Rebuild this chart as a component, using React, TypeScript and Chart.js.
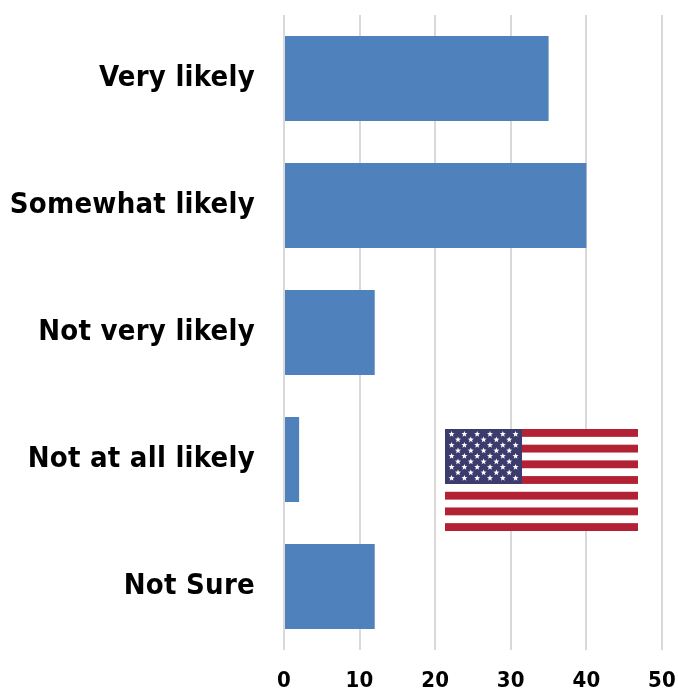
import React, { useEffect, useRef } from "react";
import { Chart, registerables } from "chart.js";

Chart.register(...registerables);

const categories = ["Very likely", "Somewhat likely", "Not very likely", "Not at all likely", "Not Sure"];
const percentages = [35, 40, 12, 2, 12];
const FONT = "'DejaVu Sans Condensed', 'DejaVu Sans', sans-serif";

// Opens up the axis lettering a little; the canvas keeps this setting for every label
const letterSpacingPlugin = {
  id: "labelTracking",
  beforeDraw(chart: Chart) {
    (chart.ctx as any).letterSpacing = "0.25px";
  },
};

// US flag placed as a decoration in the lower right of the plot
const flagPlugin = {
  id: "usFlag",
  afterDatasetsDraw(chart: Chart) {
    const { ctx } = chart;
    const x = 445, y = 429, w = 193, h = 102;
    const stripe = h / 13;
    ctx.save();
    ctx.fillStyle = "#ffffff";
    ctx.fillRect(x, y, w, h);
    ctx.fillStyle = "#b22234";
    for (let i = 0; i < 13; i += 2) ctx.fillRect(x, y + i * stripe, w, stripe);
    const cantonW = 77, cantonH = stripe * 7;
    ctx.fillStyle = "#3c3b6e";
    ctx.fillRect(x, y, cantonW, cantonH);
    ctx.fillStyle = "#ffffff";
    for (let row = 0; row < 9; row++) {
      const count = row % 2 === 0 ? 6 : 5;
      const startX = x + (row % 2 === 0 ? 6.6 : 13);
      for (let c = 0; c < count; c++) {
        const cx = startX + c * 12.8, cy = y + 5.2 + row * 5.5, r = 3.2;
        ctx.beginPath();
        for (let p = 0; p < 10; p++) {
          const rad = p % 2 === 0 ? r : r * 0.42;
          const a = -Math.PI / 2 + (p * Math.PI) / 5;
          const px = cx + rad * Math.cos(a), py = cy + rad * Math.sin(a);
          if (p === 0) ctx.moveTo(px, py); else ctx.lineTo(px, py);
        }
        ctx.closePath();
        ctx.fill();
      }
    }
    ctx.restore();
  },
};

export default function App() {
  const canvasRef = useRef<HTMLCanvasElement>(null);
  useEffect(() => {
    document.body.style.margin = "0";
    const chart = new Chart(canvasRef.current!, {
      type: "bar",
      data: {
        labels: categories,
        datasets: [{
          data: percentages,
          backgroundColor: "#4f81bd",
          categoryPercentage: 1,
          barPercentage: 0.67,
        }],
      },
      options: {
        indexAxis: "y",
        animation: false,
        responsive: false,
        layout: { autoPadding: false, padding: { top: 15, right: 16, left: 0, bottom: 0 } },
        plugins: { legend: { display: false }, tooltip: { enabled: false } },
        scales: {
          x: {
            min: 0,
            max: 50,
            afterFit(scale: any) {
              scale.height = 39;
              scale.paddingLeft = 0;
              scale.paddingRight = 0;
              scale.paddingTop = 0;
              scale.paddingBottom = 0;
            },
            border: { display: false },
            grid: { color: "#d9d9d9", lineWidth: 2, drawTicks: false },
            ticks: {
              stepSize: 10,
              padding: 18,
              maxRotation: 0,
              color: "#000000",
              font: { family: FONT, size: 22, weight: "bold" },
            },
          },
          y: {
            afterFit(scale: any) {
              scale.width = 284;
              scale.paddingLeft = 0;
              scale.paddingRight = 0;
              scale.paddingTop = 0;
              scale.paddingBottom = 0;
            },
            border: { display: false },
            grid: { display: false, drawTicks: false },
            ticks: {
              padding: 29,
              color: "#000000",
              font: { family: FONT, size: 29, weight: "bold" },
            },
          },
        },
      },
      plugins: [letterSpacingPlugin, flagPlugin],
    });
    return () => chart.destroy();
  }, []);
  return <canvas ref={canvasRef} width={678} height={689} style={{ display: "block" }} />;
}
